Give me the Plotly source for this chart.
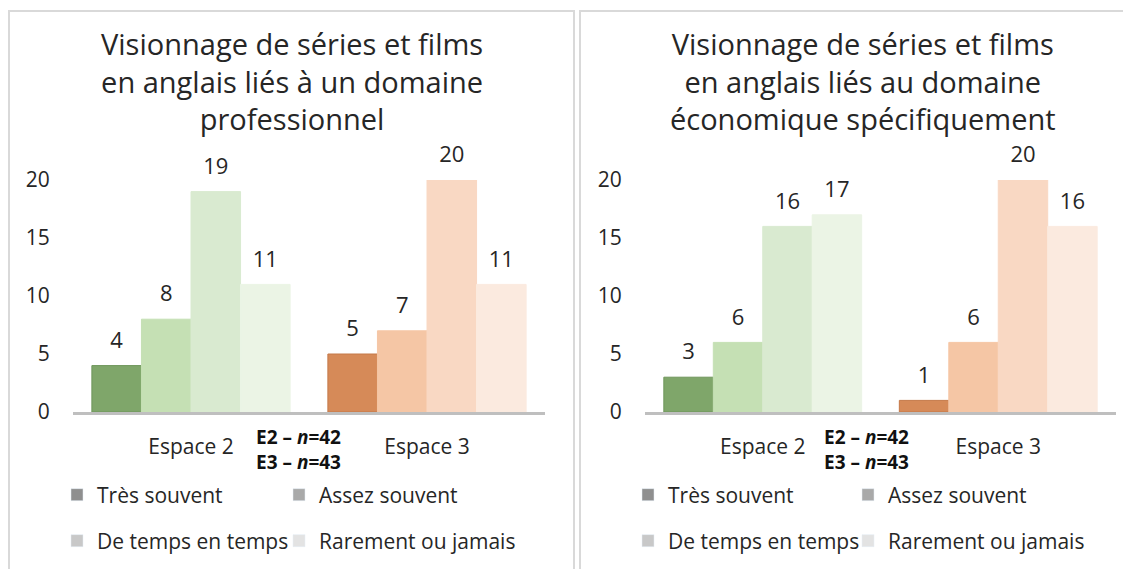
import plotly.graph_objects as go

W, H = 1131, 569
OFF = 8  # page body margin around the figure

categories = ["Espace 2", "Espace 3"]
series_names = ["Très souvent", "Assez souvent", "De temps en temps", "Rarement ou jamais"]

# Left chart: "... liés à un domaine professionnel"
left_tres = [4, 5]
left_assez = [8, 7]
left_temps = [19, 20]
left_rarement = [11, 11]

# Right chart: "... liés au domaine économique spécifiquement"
right_tres = [3, 1]
right_assez = [6, 6]
right_temps = [16, 20]
right_rarement = [17, 16]

y_ticks = [0, 5, 10, 15, 20]

green_colors = ["#7fa66a", "#c5e0b4", "#d9ead0", "#ebf4e5"]
green_edges = ["#6e955a", "#c5e0b4", "#d9ead0", "#ebf4e5"]
orange_colors = ["#d68a58", "#f5c6a5", "#f9d8c3", "#fbeadf"]
orange_edges = ["#c47848", "#f5c6a5", "#f9d8c3", "#fbeadf"]
legend_grays = ["#8f8f8f", "#a9a9a9", "#c8c8c8", "#e3e3e3"]

left_title = ["Visionnage de séries et films", "en anglais liés à un domaine", "professionnel"]
right_title = ["Visionnage de séries et films", "en anglais liés au domaine", "économique spécifiquement"]
n_note = ["<b>E2 – <i>n</i>=42</b>", "<b>E3 – <i>n</i>=43</b>"]

FONT = "Open Sans"
TXT = "#262626"


def px(x):
    return (x - OFF) / W


def py(y):
    return (H - (y - OFF)) / H


fig = go.Figure()

left_series = [left_tres, left_assez, left_temps, left_rarement]
right_series = [right_tres, right_assez, right_temps, right_rarement]

label_tpl = "<span style='font-size:22px'>%{y}</span><br>&nbsp;"

for axis_suffix, data in (("", left_series), ("2", right_series)):
    for i, vals in enumerate(data):
        fig.add_trace(go.Bar(
            x=categories, y=vals, name=series_names[i],
            marker=dict(color=[green_colors[i], orange_colors[i]],
                        line=dict(width=1, color=[green_edges[i], orange_edges[i]])),
            texttemplate=label_tpl, textposition="outside",
            textfont=dict(family=FONT, size=9, color=TXT),
            cliponaxis=False, showlegend=False,
            xaxis="x" + axis_suffix, yaxis="y" + axis_suffix,
        ))

# Legend entries (grey swatches) on a hidden axis pair
legend_cols_left = [57, 279]
legend_cols_right = [628, 848]
legend_rows = [495, 541]
k = 1
for cols in (legend_cols_left, legend_cols_right):
    for i, name in enumerate(series_names):
        lname = "legend" if k == 1 else f"legend{k}"
        fig.add_trace(go.Bar(
            x=[None], y=[None], name=name,
            marker=dict(color=legend_grays[i]),
            showlegend=True, legend=lname, xaxis="x3", yaxis="y3",
        ))
        col = cols[i % 2]
        row = legend_rows[i // 2]
        fig.layout[lname] = dict(
            x=px(col), y=py(row), xanchor="left", yanchor="middle",
            orientation="v", bgcolor="rgba(0,0,0,0)",
            font=dict(family=FONT, size=21, color=TXT),
            itemclick=False, itemdoubleclick=False,
        )
        k += 1

ydom = [py(412), py(180)]
axis_common = dict(showgrid=False, zeroline=False)
tickfont = dict(family=FONT, size=21, color=TXT)

fig.update_layout(
    width=W, height=H,
    margin=dict(l=0, r=0, t=0, b=0, autoexpand=False),
    paper_bgcolor="white", plot_bgcolor="white",
    barmode="group", bargap=0.16, bargroupgap=0,
    font=dict(family=FONT, color=TXT),
    xaxis=dict(domain=[px(73), px(545)], anchor="y", showline=True, linecolor="#bfbfbf", linewidth=2.5,
               ticks="outside", ticklen=14, tickcolor="rgba(0,0,0,0)", tickfont=tickfont, **axis_common),
    yaxis=dict(domain=ydom, anchor="x", range=[0, 20], tickvals=y_ticks, showline=False,
               ticks="outside", ticklen=18, tickcolor="rgba(0,0,0,0)", tickfont=tickfont, **axis_common),
    xaxis2=dict(domain=[px(645), px(1116)], anchor="y2", showline=True, linecolor="#bfbfbf", linewidth=2.5,
                ticks="outside", ticklen=14, tickcolor="rgba(0,0,0,0)", tickfont=tickfont, **axis_common),
    yaxis2=dict(domain=ydom, anchor="x2", range=[0, 20], tickvals=y_ticks, showline=False,
                ticks="outside", ticklen=18, tickcolor="rgba(0,0,0,0)", tickfont=tickfont, **axis_common),
    xaxis3=dict(domain=[0, 0.01], visible=False, anchor="y3"),
    yaxis3=dict(domain=[0, 0.01], visible=False, anchor="x3"),
)

# Panel borders
fig.add_shape(type="rect", xref="paper", yref="paper",
              x0=px(9), x1=px(574), y0=-0.05, y1=py(11),
              line=dict(color="#d9d9d9", width=2), fillcolor="rgba(0,0,0,0)", layer="below")
fig.add_shape(type="rect", xref="paper", yref="paper",
              x0=px(580), x1=1.05, y0=-0.05, y1=py(11),
              line=dict(color="#d9d9d9", width=2), fillcolor="rgba(0,0,0,0)", layer="below")

# Titles (one multi-line annotation per chart)
for cx, lines in ((292, left_title), (863, right_title)):
    fig.add_annotation(text="<br>".join(lines), xref="paper", yref="paper",
                       x=px(cx), y=py(81),
                       xanchor="center", yanchor="middle", align="center",
                       showarrow=False, borderpad=0,
                       font=dict(family=FONT, size=29, color=TXT))

# Sample size notes
for cx in (298, 866):
    fig.add_annotation(text="<br>".join(n_note), xref="paper", yref="paper",
                       x=px(cx), y=py(449),
                       xanchor="center", yanchor="middle", align="center",
                       showarrow=False, borderpad=0,
                       font=dict(family=FONT, size=19, color="#111111"))

fig.write_html("out.html")
